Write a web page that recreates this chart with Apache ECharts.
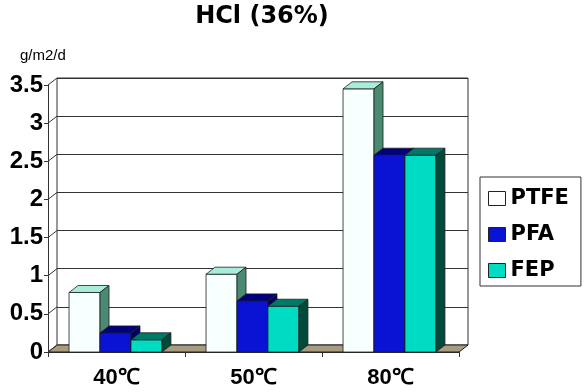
<!DOCTYPE html>
<html>
<head>
<meta charset="utf-8">
<script src="https://cdn.jsdelivr.net/npm/echarts@6/dist/echarts.min.js"></script>
<style>
  html, body { margin: 0; padding: 0; background: #fff; }
  #chart { width: 586px; height: 392px; }
</style>
</head>
<body>
<div id="chart"></div>
<script>
// data
const categories = ['40℃', '50℃', '80℃'];
const ptfe = [0.78, 1.02, 3.45];
const pfa = [0.25, 0.67, 2.58];
const fep = [0.16, 0.6, 2.58];
const yTicks = [0, 0.5, 1, 1.5, 2, 2.5, 3, 3.5];

// 3d depth of the box
const DX = 9;
const DY = 7;
const EDGE = '#1e1e1e';

const chart = echarts.init(document.getElementById('chart'));

const barRender = (slot, colors) => (params, api) => {
  const top = api.coord([api.value(0), api.value(1)]);
  const base = api.coord([api.value(0), 0]);
  const band = api.size([1, 0])[0];
  const w = band * 0.226;
  const x0 = top[0] - 1.5 * w + slot * w - 1;
  const x1 = x0 + w;
  const y0 = top[1];
  const y1 = base[1];
  const st = c => ({ fill: c, stroke: EDGE, lineWidth: 0.8 });
  return {
    type: 'group',
    children: [
      { type: 'rect', shape: { x: x0, y: y0, width: w, height: y1 - y0 }, style: st(colors[0]) },
      { type: 'polygon', shape: { points: [[x0, y0], [x0 + DX, y0 - DY], [x1 + DX, y0 - DY], [x1, y0]] }, style: st(colors[1]) },
      { type: 'polygon', shape: { points: [[x1, y0], [x1 + DX, y0 - DY], [x1 + DX, y1 - DY], [x1, y1]] }, style: st(colors[2]) }
    ]
  };
};

// floor + left wall lines
const frameRender = (params, api) => {
  const cs = params.coordSys;
  const y = api.coord([0, api.value(1)])[1];
  const children = [
    { type: 'line', shape: { x1: cs.x, y1: y, x2: cs.x + DX, y2: y - DY }, style: { stroke: '#333', lineWidth: 1 } }
  ];
  if (params.dataIndex === 0) {
    const b = cs.y + cs.height;
    const r = cs.x + cs.width;
    children.unshift({
      type: 'polygon',
      shape: { points: [[cs.x, b], [r, b], [r + DX, b - DY], [cs.x + DX, b - DY]] },
      style: { fill: '#a89c80', stroke: EDGE, lineWidth: 1 }
    });
  }
  return { type: 'group', children };
};

const toData = arr => arr.map((v, i) => [i, v]);
const axisFont = { fontFamily: 'Liberation Sans, Arial', fontWeight: 'bold', color: '#000' };

const option = {
  animation: false,
  title: [
    {
      text: 'HCl (36%)',
      left: 257,
      top: 0,
      textAlign: 'center',
      textStyle: { fontFamily: 'DejaVu Sans', fontWeight: 'bold', fontSize: 24, color: '#000' }
    },
    {
      text: 'g/m2/d',
      left: 15,
      top: 43,
      textStyle: { fontFamily: 'Liberation Sans, Arial', fontWeight: 'normal', fontSize: 15, color: '#000' }
    }
  ],
  legend: {
    orient: 'vertical',
    left: 480,
    top: 177,
    padding: [11, 12, 5, 8],
    itemWidth: 17,
    itemHeight: 14,
    itemGap: 15,
    borderColor: '#333',
    borderWidth: 1,
    icon: 'rect',
    itemStyle: { borderColor: '#222', borderWidth: 1 },
    textStyle: { fontFamily: 'DejaVu Sans', fontWeight: 'bold', color: '#000', fontSize: 21 },
    data: ['PTFE', 'PFA', 'FEP']
  },
  grid: [
    { left: 48, right: 127, top: 85, bottom: 40 },
    { left: 57, right: 118, top: 78, bottom: 47, show: true, borderColor: '#333', borderWidth: 1, backgroundColor: '#fff' }
  ],
  xAxis: [
    {
      gridIndex: 0,
      type: 'category',
      data: categories,
      axisLine: { show: true, lineStyle: { color: '#333' } },
      axisTick: { show: true, length: 5, lineStyle: { color: '#333' } },
      axisLabel: { ...axisFont, fontSize: 22, margin: 15 }
    },
    {
      gridIndex: 1,
      type: 'category',
      data: categories,
      show: false
    }
  ],
  yAxis: [
    {
      gridIndex: 0,
      type: 'value',
      min: 0,
      max: 3.5,
      interval: 0.5,
      splitLine: { show: false },
      axisLine: { show: true, lineStyle: { color: '#333' } },
      axisTick: { show: true, length: 4, lineStyle: { color: '#333' } },
      axisLabel: { ...axisFont, fontSize: 24, margin: 5 }
    },
    {
      gridIndex: 1,
      type: 'value',
      min: 0,
      max: 3.5,
      interval: 0.5,
      axisLine: { show: false },
      axisTick: { show: false },
      axisLabel: { show: false },
      splitLine: { show: true, lineStyle: { color: '#333', width: 1 } }
    }
  ],
  series: [
    {
      name: 'frame',
      type: 'custom',
      xAxisIndex: 0,
      yAxisIndex: 0,
      renderItem: frameRender,
      data: yTicks.map(t => [0, t]),
      silent: true
    },
    {
      name: 'PTFE',
      type: 'custom',
      renderItem: barRender(0, ['#f8ffff', '#a8ecdc', '#4a8a72']),
      itemStyle: { color: '#ffffff' },
      data: toData(ptfe)
    },
    {
      name: 'PFA',
      type: 'custom',
      renderItem: barRender(1, ['#0a12d4', '#000080', '#000060']),
      itemStyle: { color: '#0a12d4' },
      data: toData(pfa)
    },
    {
      name: 'FEP',
      type: 'custom',
      renderItem: barRender(2, ['#00dcc4', '#007a68', '#004a3c']),
      itemStyle: { color: '#00dcc4' },
      data: toData(fep)
    }
  ]
};

chart.setOption(option);
</script>
</body>
</html>
